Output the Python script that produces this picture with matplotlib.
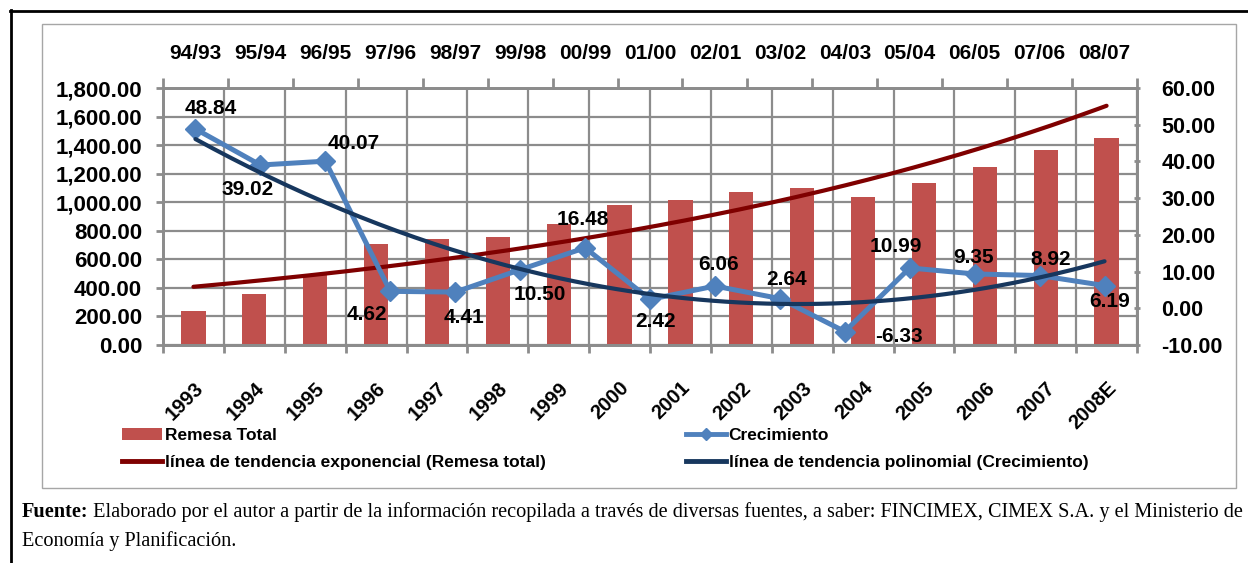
import numpy as np
import matplotlib
matplotlib.use("Agg")
import matplotlib.pyplot as plt
from matplotlib.lines import Line2D
from matplotlib.patches import Patch, Rectangle
from matplotlib.ticker import FuncFormatter

plt.rcParams['font.family'] = ['Liberation Sans', 'DejaVu Sans']

# ---------------- datos ----------------
anios = ['1993', '1994', '1995', '1996', '1997', '1998', '1999', '2000',
         '2001', '2002', '2003', '2004', '2005', '2006', '2007', '2008E']
remesa = [237, 359, 490, 707, 740, 756, 845, 980,
          1015, 1069, 1100, 1039, 1137, 1245, 1364, 1452]

periodos = ['94/93', '95/94', '96/95', '97/96', '98/97', '99/98', '00/99', '01/00',
            '02/01', '03/02', '04/03', '05/04', '06/05', '07/06', '08/07']
crecimiento = [48.84, 39.02, 40.07, 4.62, 4.41, 10.50, 16.48, 2.42,
               6.06, 2.64, -6.33, 10.99, 9.35, 8.92, 6.19]

# desplazamiento de las etiquetas (pixeles, x derecha / y abajo)
etiq_dx = [15, -13, 28, -23, 9, 20, -2, 6, 4, 7, 54, -14, -1, 11, 5]
etiq_dy = [-20, 24, -18, 23, 25, 25, -28, 22, -22, -19, 5, -21, -16, -16, 16]

ROJO = '#C0504D'
AZUL = '#4F81BD'
GRANATE = '#7F0000'
MARINO = '#17375E'
GRIS = '#8C8C8C'

# ---------------- lineas de tendencia ----------------
x16 = np.arange(len(remesa))
b, a = np.polyfit(x16, np.log(remesa), 1)
xs1 = np.linspace(0, len(remesa) - 1, 200)
tend_exp = np.exp(a + b * xs1)

x15 = np.arange(len(crecimiento))
coef = np.polyfit(x15, crecimiento, 2)
xs2 = np.linspace(0, len(crecimiento) - 1, 200)
tend_pol = np.polyval(coef, xs2)

# ---------------- figura ----------------
W, H = 1248, 563
fig = plt.figure(figsize=(W / 100, H / 100), dpi=100)
pos = [163 / W, 1 - 345 / H, (1137 - 163) / W, (345 - 88) / H]

ax = fig.add_axes(pos)
ax.bar(x16, remesa, width=0.4, color=ROJO, zorder=2)
ax.plot(xs1, tend_exp, color=GRANATE, lw=3, solid_capstyle='round', zorder=3)
ax.set_xlim(-0.5, 15.5)
ax.set_ylim(0, 1800)
ax.set_yticks(np.arange(0, 1801, 200))
ax.yaxis.set_major_formatter(FuncFormatter(lambda v, p: f'{v:,.2f}'))
ax.set_xticks(np.arange(-0.5, 16, 1))
ax.set_xticklabels([])
ax.set_xticks(x16, minor=True)
ax.set_xticklabels(anios, minor=True, rotation=45, ha='right', va='top',
                   rotation_mode='anchor', fontsize=14.5, fontweight='bold')
ax.tick_params(axis='x', which='minor', length=0, pad=24)
ax.tick_params(axis='x', which='major', length=6, width=2, color=GRIS)
ax.tick_params(axis='y', length=5, width=2, color=GRIS, pad=10, labelsize=16)
for t in ax.get_yticklabels():
    t.set_fontweight('bold')
ax.grid(True, which='major', color=GRIS, lw=1.6)
ax.set_axisbelow(True)
for s in ax.spines.values():
    s.set_color(GRIS)
    s.set_linewidth(2)

ax2 = fig.add_axes(pos, facecolor='none')
ax2.plot(xs2, tend_pol, color=MARINO, lw=3, solid_capstyle='round', zorder=3)
ax2.plot(x15, crecimiento, color=AZUL, lw=3.6, marker='D', ms=10, zorder=2)
ax2.set_xlim(-0.5, 14.5)
ax2.set_ylim(-10, 60)
ax2.set_yticks(np.arange(-10, 61, 10))
ax2.yaxis.tick_right()
ax2.yaxis.set_major_formatter(FuncFormatter(lambda v, p: f'{v:.2f}'))
ax2.tick_params(axis='y', length=5, width=2, color=GRIS, pad=15,
                labelsize=15.5, direction='inout')
for t in ax2.get_yticklabels():
    t.set_fontweight('bold')
ax2.xaxis.tick_top()
ax2.set_xticks(np.arange(-0.5, 15, 1))
ax2.set_xticklabels([])
ax2.set_xticks(x15, minor=True)
ax2.set_xticklabels(periodos, minor=True, fontsize=15, fontweight='bold')
ax2.tick_params(axis='x', which='major', top=True, bottom=False, length=7,
                width=2, color=GRIS)
ax2.tick_params(axis='x', which='minor', top=True, bottom=False, labeltop=True,
                labelbottom=False, length=0, pad=18)
for s in ax2.spines.values():
    s.set_color(GRIS)
    s.set_linewidth(2)

for i, v in enumerate(crecimiento):
    ax2.annotate(f'{v:.2f}', (i, v), xytext=(etiq_dx[i], -etiq_dy[i]),
                 textcoords='offset pixels', ha='center', va='center',
                 fontsize=15, fontweight='bold', zorder=5)

# ---------------- leyenda ----------------
h_rem = Patch(facecolor=ROJO, edgecolor='none')
h_exp = Line2D([], [], color=GRANATE, lw=3.5)
h_cre = Line2D([], [], color=AZUL, lw=3.5, marker='D', ms=6)
h_pol = Line2D([], [], color=MARINO, lw=3.5)
kw = dict(loc='upper left', frameon=False, borderpad=0, borderaxespad=0,
          handlelength=2.3, handletextpad=0.15, labelspacing=0.7,
          prop={'size': 12.5, 'weight': 'bold', 'family': 'Liberation Sans'})
fig.legend([h_rem, h_exp], ['Remesa Total', 'línea de tendencia exponencial (Remesa total)'],
           bbox_to_anchor=(122 / W, 1 - 428 / H), **kw)
fig.legend([h_cre, h_pol], ['Crecimiento', 'línea de tendencia polinomial (Crecimiento)'],
           bbox_to_anchor=(686 / W, 1 - 428 / H), **kw)

# ---------------- marcos ----------------
fig.add_artist(Rectangle((42 / W, 1 - 488 / H), (1236 - 42) / W, (488 - 24) / H,
                         fill=False, ec='#A6A6A6', lw=1, transform=fig.transFigure))
fig.add_artist(Line2D([10 / W, 1], [1 - 11 / H, 1 - 11 / H], color='black', lw=2,
                      transform=fig.transFigure))
fig.add_artist(Line2D([11 / W, 11 / W], [0, 1 - 10 / H], color='black', lw=2,
                      transform=fig.transFigure))

# ---------------- fuente ----------------
serif = dict(fontfamily='Liberation Serif', fontsize=14.6, va='center')
t1 = fig.text(22 / W, 1 - 512 / H, 'Fuente:', fontweight='bold', **serif)
ax.annotate(' Elaborado por el autor a partir de la información recopilada a través de '
            'diversas fuentes, a saber: FINCIMEX, CIMEX S.A. y el Ministerio de',
            xy=(1, 0.5), xycoords=t1, ha='left', **serif)
fig.text(22 / W, 1 - 541 / H, 'Economía y Planificación.', **serif)

fig.savefig('out.png', dpi=100)
